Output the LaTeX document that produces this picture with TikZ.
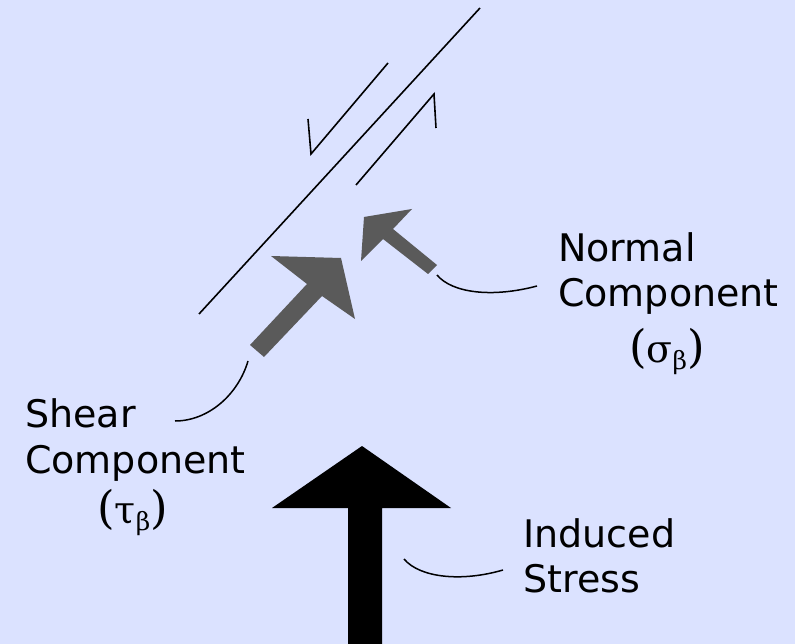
\documentclass[tikz,border=0pt]{standalone}
\usepackage{fontspec}
\setmainfont{DejaVu Sans}
\newfontfamily\grk{DejaVu Serif}
\definecolor{bgblue}{RGB}{219,226,255}
\definecolor{arrgray}{RGB}{90,90,90}
\newcommand{\bigpar}[1]{{\fontsize{45}{45}\selectfont #1}}
\newcommand{\subbeta}{\raisebox{-7pt}{\fontsize{25}{25}\selectfont β}}
\begin{document}
\begin{tikzpicture}[x=1pt,y=-1pt,
  lbl/.style={anchor=base west,inner sep=0pt,font=\fontsize{38}{46}\selectfont},
  faultline/.style={line width=1.6pt,line join=miter},
  leader/.style={line width=1.5pt},
  grayarrow/.style={fill=arrgray,draw=none},
  blackarrow/.style={fill=black,draw=none}]
\fill[bgblue] (0,0) rectangle (795,644);
\useasboundingbox (0,0) rectangle (795,644);
% fault plane and shear sense
\draw[faultline] (199,314) -- (480,8);
\draw[faultline] (388,63) -- (311,154) -- (308,119);
\draw[faultline] (356,185) -- (434,94) -- (436,128);
% shear component arrow
\fill[grayarrow] (250,345) -- (307,284) -- (271,256) -- (341,258) -- (355,319) -- (322,296) -- (264,357) -- cycle;
% normal component arrow
\fill[grayarrow] (437,265) -- (393,229) -- (412,209) -- (364,217) -- (361,261) -- (383,239) -- (428,274) -- cycle;
% induced stress arrow
\fill[blackarrow] (348,644) -- (348,508) -- (272,508) -- (362,446) -- (451,508) -- (382,508) -- (382,644) -- cycle;
% labels
\node[lbl] (sh1) at (25,427) {Shear};
\node[lbl] (sh2) at (25,473) {Component};
\node[lbl] (sh3) at (97,523) {\grk \bigpar{(}τ\subbeta\bigpar{)}};
\node[lbl] (no1) at (558,262) {Normal};
\node[lbl] (no2) at (558,307) {Component};
\node[lbl] (no3) at (629,362) {\grk \bigpar{(}σ\subbeta\bigpar{)}};
\node[lbl] (in1) at (523,547) {Induced};
\node[lbl] (in2) at (523,592) {Stress};
% leaders
\coordinate (shA) at (248,361);
\coordinate (shB) at (175,421);
\coordinate (noA) at (437,275);
\coordinate (noB) at (537,286);
\coordinate (inA) at (404,559);
\coordinate (inB) at (503,570);
\draw[leader] (shA) .. controls (238,395) and (208,421) .. (shB);
\draw[leader] (noA) .. controls (452,293) and (492,298) .. (noB);
\draw[leader] (inA) .. controls (420,578) and (462,582) .. (inB);
\end{tikzpicture}
\end{document}
